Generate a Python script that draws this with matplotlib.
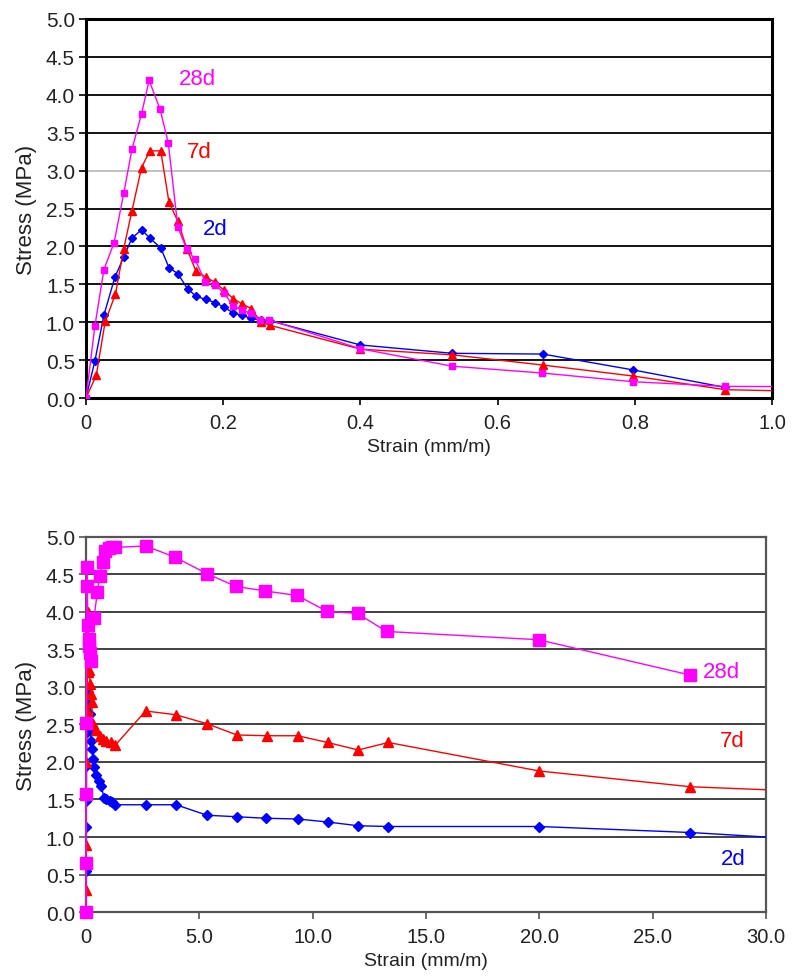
import numpy as np
import matplotlib
matplotlib.use('Agg')
import matplotlib.pyplot as plt

plt.rcParams['font.family'] = ['Liberation Sans', 'DejaVu Sans']

# top chart: first part of the curves (strain 0 - 1 mm/m)
top_x_2d = [0, 0.013, 0.026, 0.042, 0.055, 0.067, 0.081, 0.093, 0.109, 0.121, 0.134, 0.148, 0.161, 0.175,
            0.188, 0.201, 0.215, 0.228, 0.241, 0.255, 0.268, 0.40, 0.534, 0.666, 0.798, 0.932]
top_y_2d = [0, 0.49, 1.09, 1.59, 1.86, 2.11, 2.22, 2.11, 1.98, 1.72, 1.64, 1.44, 1.34, 1.30,
            1.26, 1.20, 1.12, 1.09, 1.05, 1.03, 1.02, 0.70, 0.59, 0.58, 0.37, 0.14]
top_x_7d = [0, 0.015, 0.028, 0.043, 0.055, 0.067, 0.081, 0.093, 0.109, 0.121, 0.134, 0.147, 0.160, 0.175,
            0.188, 0.201, 0.215, 0.228, 0.241, 0.255, 0.268, 0.40, 0.534, 0.666, 0.798, 0.932, 1.067]
top_y_7d = [0, 0.30, 1.01, 1.37, 1.97, 2.47, 3.04, 3.26, 3.26, 2.58, 2.33, 1.97, 1.68, 1.59,
            1.53, 1.42, 1.31, 1.24, 1.18, 1.00, 0.96, 0.645, 0.57, 0.435, 0.29, 0.11, 0.085]
top_x_28d = [0, 0.013, 0.026, 0.041, 0.055, 0.067, 0.081, 0.092, 0.108, 0.120, 0.134, 0.147, 0.159, 0.174,
             0.188, 0.201, 0.214, 0.227, 0.240, 0.254, 0.267, 0.40, 0.534, 0.665, 0.798, 0.932, 1.067]
top_y_28d = [0, 0.95, 1.69, 2.05, 2.70, 3.28, 3.75, 4.19, 3.81, 3.36, 2.25, 1.96, 1.83, 1.53,
             1.49, 1.39, 1.22, 1.16, 1.12, 1.03, 1.03, 0.65, 0.42, 0.33, 0.215, 0.154, 0.15]

# bottom chart: full curves (strain 0 - 30 mm/m)
bot_x_2d = [0, 0.005, 0.01, 0.015, 0.02, 0.03, 0.04, 0.06, 0.08, 0.12, 0.16, 0.2, 0.23, 0.27, 0.31, 0.35,
            0.45, 0.56, 0.68, 0.79, 0.9, 1.04, 1.15, 1.27, 2.63, 3.97, 5.34, 6.66, 7.94, 9.34, 10.66,
            12.01, 13.34, 20.0, 26.67, 33.33]
bot_y_2d = [0, 0.55, 1.13, 1.48, 1.94, 2.40, 2.62, 2.80, 2.93, 2.77, 2.64, 2.42, 2.28, 2.17, 2.04, 1.93,
            1.82, 1.75, 1.68, 1.52, 1.50, 1.48, 1.46, 1.43, 1.43, 1.43, 1.29, 1.27, 1.25, 1.24, 1.20,
            1.15, 1.14, 1.14, 1.06, 0.94]
bot_x_7d = [0, 0.005, 0.01, 0.02, 0.04, 0.07, 0.10, 0.15, 0.18, 0.22, 0.25, 0.31, 0.45, 0.6, 0.75, 0.9,
            1.1, 1.28, 2.63, 3.96, 5.34, 6.66, 7.97, 9.34, 10.66, 12.01, 13.34, 20.0, 26.67, 33.33]
bot_y_7d = [0, 0.30, 0.90, 2.00, 2.68, 3.20, 4.00, 3.22, 3.04, 2.91, 2.80, 2.50, 2.42, 2.35, 2.30, 2.28,
            2.26, 2.22, 2.68, 2.63, 2.51, 2.36, 2.35, 2.35, 2.26, 2.16, 2.26, 1.88, 1.67, 1.59]
bot_x_28d = [0, 0.005, 0.01, 0.02, 0.03, 0.05, 0.08, 0.12, 0.15, 0.17, 0.2, 0.35, 0.5, 0.6, 0.75, 0.84,
             1.0, 1.13, 1.28, 2.63, 3.93, 5.34, 6.62, 7.9, 9.32, 10.62, 11.98, 13.26, 19.97, 26.64]
bot_y_28d = [0, 0.66, 1.57, 2.52, 4.35, 4.60, 3.82, 3.64, 3.55, 3.45, 3.34, 3.92, 4.26, 4.48, 4.66, 4.81,
             4.85, 4.86, 4.86, 4.88, 4.73, 4.51, 4.34, 4.28, 4.22, 4.01, 3.98, 3.74, 3.63, 3.16]

y_ticks = np.arange(0, 5.01, 0.5)
y_tick_labels = ['%.1f' % v for v in y_ticks]
top_x_ticks = [0, 0.2, 0.4, 0.6, 0.8, 1.0]
top_x_labels = ['0', '0.2', '0.4', '0.6', '0.8', '1.0']
bot_x_ticks = [0, 5, 10, 15, 20, 25, 30]
bot_x_labels = ['0', '5.0', '10.0', '15.0', '20.0', '25.0', '30.0']

BLUE, RED, MAG = '#0000ff', '#ff0000', '#ff00ff'
narrow = ['Liberation Sans Narrow', 'Liberation Sans', 'DejaVu Sans']

fig = plt.figure(figsize=(7.94, 9.79), dpi=100)
ax1 = fig.add_axes([0.1083, 0.5924, 0.8640, 0.3872])
ax2 = fig.add_axes([0.1083, 0.0674, 0.8564, 0.3831])


def style_axes(ax, xt, xl, xmax, spine_color, spine_w, grid_color):
    ax.set_xlim(0, xmax)
    ax.set_ylim(0, 5.0)
    ax.set_yticks(y_ticks)
    ax.set_yticklabels(y_tick_labels, fontsize=15)
    ax.set_xticks(xt)
    ax.set_xticklabels(xl, fontsize=14.5, family=narrow)
    ax.tick_params(direction='out', length=5, width=1.2, colors=spine_color, labelcolor='#222222')
    ax.tick_params(axis='x', pad=6)
    ax.tick_params(axis='y', pad=3)
    ax.set_axisbelow(True)
    ax.yaxis.grid(True, color=grid_color, linewidth=1.3)
    for s in ax.spines.values():
        s.set_color(spine_color)
        s.set_linewidth(spine_w)
    ax.set_xlabel('Strain (mm/m)', fontsize=14, family=narrow, color='#222222', labelpad=4)
    ax.set_ylabel('Stress (MPa)', fontsize=16, color='#222222', labelpad=6)


style_axes(ax1, top_x_ticks, top_x_labels, 1.0, 'black', 2.2, 'black')
ax1.get_ygridlines()[6].set_color('#bbbbbb')
style_axes(ax2, bot_x_ticks, bot_x_labels, 30.0, '#555555', 1.6, '#333333')

# top chart series
ax1.plot(top_x_2d, top_y_2d, color=BLUE, lw=1, marker='D', ms=4.5, zorder=3)
ax1.plot(top_x_7d, top_y_7d, color=RED, lw=1, marker='^', ms=6, zorder=3)
ax1.plot(top_x_28d, top_y_28d, color=MAG, lw=1, marker='s', ms=5, zorder=3)
ax1.text(0.162, 4.22, '28d', color=MAG, fontsize=16, ha='center', va='center')
ax1.text(0.165, 3.25, '7d', color=RED, fontsize=16, ha='center', va='center')
ax1.text(0.188, 2.23, '2d', color=BLUE, fontsize=16, ha='center', va='center')

# bottom chart series
ax2.plot(bot_x_2d, bot_y_2d, color=BLUE, lw=1, marker='D', ms=5, zorder=3)
ax2.plot(bot_x_7d, bot_y_7d, color=RED, lw=1, marker='^', ms=7, zorder=3)
ax2.plot(bot_x_28d, bot_y_28d, color=MAG, lw=1, marker='s', ms=8.5, zorder=3, clip_on=False)
ax2.text(28.05, 3.21, '28d', color=MAG, fontsize=16, ha='center', va='center')
ax2.text(28.5, 2.28, '7d', color=RED, fontsize=16, ha='center', va='center')
ax2.text(28.55, 0.72, '2d', color=BLUE, fontsize=16, ha='center', va='center')

fig.savefig('out.png', dpi=100)
